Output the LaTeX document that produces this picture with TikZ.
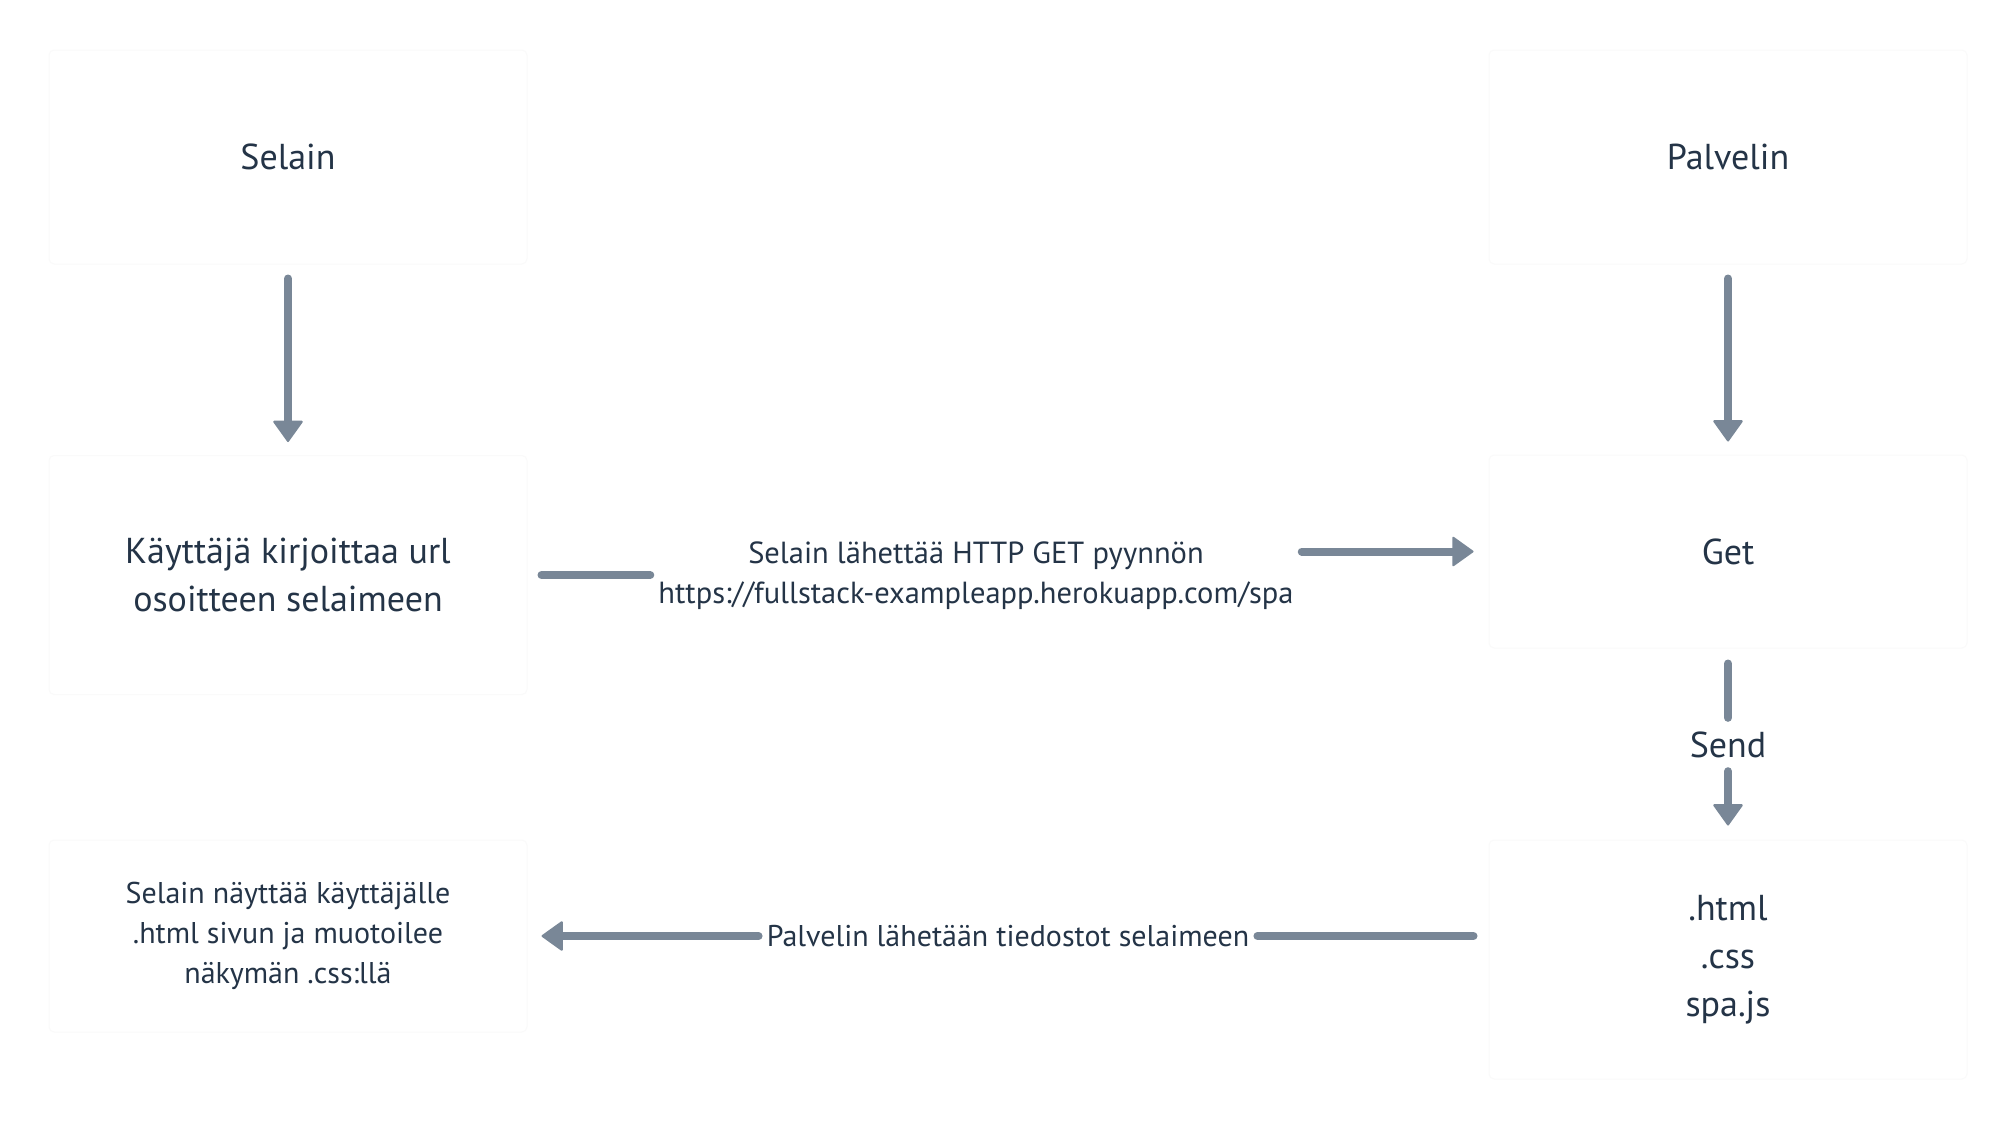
\documentclass[tikz,border=0pt]{standalone}
\usepackage{fontspec}
\setmainfont{PT Sans}
\usetikzlibrary{arrows.meta,backgrounds,calc}
\definecolor{lc}{HTML}{798797}
\definecolor{tc}{HTML}{243447}
\begin{document}
\begin{tikzpicture}[x=1pt,y=-1pt,
  box/.style={fill=white, draw=black!2, line width=1pt, rounded corners=5pt,
    minimum width=478pt, inner sep=0pt, text=tc, align=center,
    font=\fontsize{36}{48}\selectfont},
  lbl/.style={text=tc, align=center, inner xsep=8pt, inner ysep=0pt,
    font=\fontsize{30.5}{40}\selectfont},
  conn/.style={draw=lc, line width=8pt, line cap=round},
  arr/.style={conn, -{Triangle[width=31pt,length=22pt,round,line width=2pt 0]}}]
\fill[white] (0,0) rectangle (2016,1128);
\useasboundingbox (0,0) rectangle (2016,1128);

\node[box, minimum height=214pt] (A) at (288,157) {Selain};
\node[box, minimum height=214pt] (B) at (1728,157) {Palvelin};
\node[box, minimum height=239pt] (C) at (288,575) {Käyttäjä kirjoittaa url\\osoitteen selaimeen};
\node[box, minimum height=193pt] (D) at (1728,551.5) {Get};
\node[box, minimum height=192pt, font=\fontsize{30}{40}\selectfont] (E) at (288,936) {Selain näyttää käyttäjälle\\.html sivun ja muotoilee\\näkymän .css:llä};
\node[box, minimum height=239pt] (F) at (1728,959.5) {.html\\.css\\spa.js};

\begin{scope}[on background layer]
\foreach \n in {A,B,C,D,E,F}{
  \foreach \k in {2,4,6,8,10}{
    \fill[black,opacity=0.011,rounded corners=8pt]
      ($(\n.north west)+(-\k/2,-\k/3+2)$) rectangle ($(\n.south east)+(\k/2,\k/2+4)$);
  }
}
\end{scope}

\node[lbl] (L1) at (976,576) {Selain lähettää HTTP GET pyynnön\\https://fullstack-exampleapp.herokuapp.com/spa};
\node[lbl, font=\fontsize{30}{40}\selectfont] (L2) at (1008,936) {Palvelin lähetään tiedostot selaimeen};
\node[text=tc, inner sep=0pt, minimum height=53pt, font=\fontsize{36}{48}\selectfont] (S) at (1728,744.5) {Send};

\draw[arr] ($(A.south)+(0,14)$) -- ($(C.north)+(0,-13)$);
\draw[arr] ($(B.south)+(0,14)$) -- ($(D.north)+(0,-13)$);

\draw[conn] ($(C.east)+(14,0)$) -- (C.east -| L1.west);
\draw[arr] (L1.east |- D.west) -- ($(D.west)+(-15,0)$);

\draw[conn] ($(D.south)+(0,15)$) -- (S.north);
\draw[arr] (S.south) -- ($(F.north)+(0,-14)$);

\draw[conn] ($(F.west |- L2.east)+(-15,0)$) -- (L2.east);
\draw[arr] (L2.west) -- ($(E.east)+(14,0)$);
\end{tikzpicture}
\end{document}
